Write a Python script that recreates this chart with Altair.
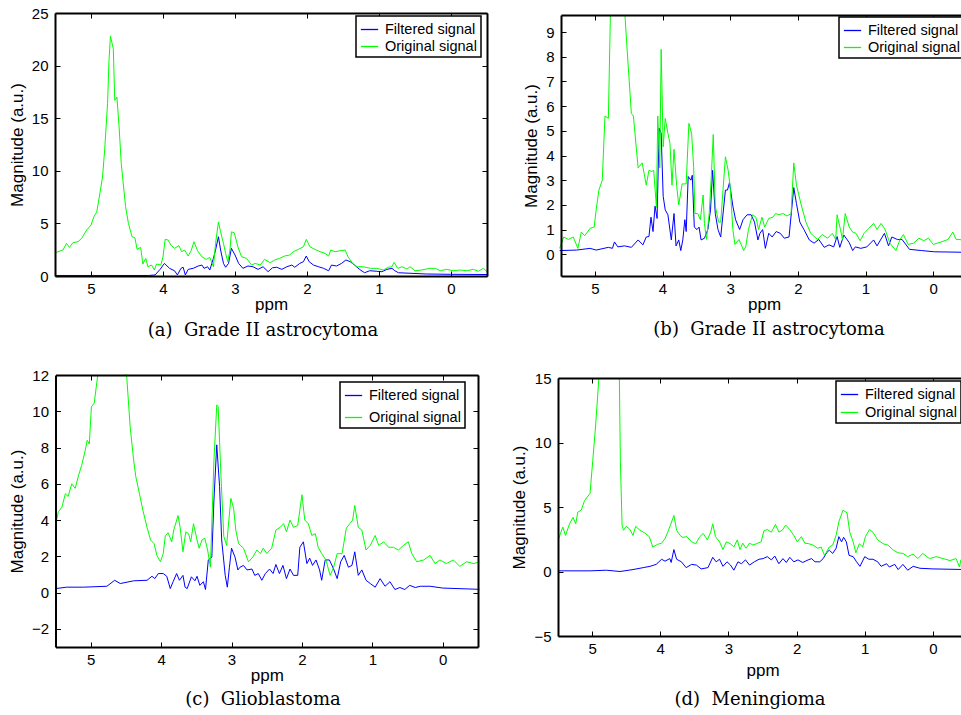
import altair as alt
import pandas as pd

W, H = 961, 715
SERIES = ["Filtered signal", "Original signal"]
COLORS = ["#0000ff", "#00ff00"]
X_DOMAIN = [5.5, -0.5]
X_TICKS = [5, 4, 3, 2, 1, 0]
X_TITLE = "ppm"
Y_TITLE = "Magnitude (a.u.)"
CAPTIONS = ["(a)\u00a0 Grade II astrocytoma", "(b)\u00a0 Grade II astrocytoma",
            "(c)\u00a0 Glioblastoma", "(d)\u00a0 Meningioma"]
OFF = None  # water peak runs off the top of the axes: value not readable, trace leaves the frame

# ---------------- (a) Grade II astrocytoma ----------------
A_Y_DOMAIN = [0, 25]
A_Y_TICKS = [0, 5, 10, 15, 20, 25]
A_f_ppm = [5.5, 5.0, 4.5, 4.2, 4.11, 4.04, 3.98, 3.91, 3.84, 3.80, 3.75, 3.72, 3.69, 3.65, 3.58,
           3.51, 3.46, 3.43, 3.38, 3.35, 3.30, 3.27, 3.23, 3.20, 3.16, 3.13, 3.09, 3.05, 3.0, 2.95,
           2.89, 2.82, 2.75, 2.68, 2.61, 2.54, 2.48, 2.42, 2.35, 2.28, 2.21, 2.17, 2.10, 2.05, 2.01,
           1.97, 1.91, 1.84, 1.77, 1.70, 1.66, 1.59, 1.52, 1.46, 1.40, 1.34, 1.27, 1.20, 1.13, 1.03,
           0.96, 0.89, 0.82, 0.78, 0.73, 0.57, 0.34, 0.01, -0.5]
A_f_val = [0.05, 0.05, 0.05, 0.05, 0.1, 0.63, 1.2, 0.73, 0.5, 0.1, 0.73, 0.83, 0.1, 0.63, 0.73,
           0.95, 1.04, 0.73, 0.88, 0.57, 1.68, 2.47, 3.73, 2.47, 1.2, 0.83, 1.2, 2.63, 2.0, 1.2,
           0.73, 0.95, 0.88, 0.63, 0.88, 0.41, 0.78, 0.83, 0.63, 0.88, 1.04, 0.83, 1.2, 1.36, 1.9,
           1.36, 1.04, 0.88, 0.73, 0.5, 1.04, 0.95, 1.2, 1.52, 1.36, 1.04, 0.63, 0.31, 0.5, 0.45,
           0.41, 0.63, 0.73, 0.5, 0.31, 0.26, 0.19, 0.16, 0.14]
A_o_ppm = [5.5, 5.39, 5.34, 5.30, 5.25, 5.18, 5.13, 5.06, 5.0, 4.96, 4.92, 4.88, 4.84, 4.81, 4.77,
           4.75, 4.73, 4.69, 4.67, 4.64, 4.61, 4.58, 4.52, 4.48, 4.43, 4.39, 4.36, 4.31, 4.28, 4.24,
           4.21, 4.16, 4.12, 4.09, 4.03, 4.0, 3.97, 3.93, 3.89, 3.84, 3.78, 3.74, 3.70, 3.65, 3.61,
           3.57, 3.52, 3.46, 3.40, 3.35, 3.30, 3.27, 3.23, 3.20, 3.16, 3.13, 3.10, 3.07, 3.05, 3.01,
           2.96, 2.91, 2.84, 2.77, 2.72, 2.65, 2.59, 2.51, 2.45, 2.38, 2.31, 2.24, 2.19, 2.12, 2.05,
           2.01, 1.96, 1.89, 1.82, 1.75, 1.70, 1.67, 1.61, 1.54, 1.47, 1.43, 1.36, 1.30, 1.22, 1.12,
           1.03, 0.94, 0.87, 0.82, 0.79, 0.74, 0.68, 0.61, 0.57, 0.50, 0.41, 0.29, 0.22, 0.15, 0.06,
           -0.03, -0.13, -0.22, -0.31, -0.38, -0.45, -0.5]
A_o_val = [2.21, 2.47, 3.1, 2.72, 3.17, 3.26, 3.58, 4.37, 4.84, 5.63, 6.1, 7.7, 9.4, 12.0, 16.4,
           20.5, 22.8, 21.6, 16.7, 17.0, 14.2, 10.7, 6.6, 5.0, 3.73, 3.64, 2.53, 2.72, 1.14, 1.68,
           0.88, 1.04, 0.57, 1.14, 1.04, 1.83, 3.48, 3.42, 2.94, 2.63, 2.88, 2.31, 2.47, 1.9, 2.4,
           3.26, 2.4, 1.83, 1.58, 1.77, 0.88, 3.1, 5.13, 4.2, 3.1, 2.15, 1.36, 2.47, 4.2, 4.11,
           2.78, 1.83, 1.68, 1.04, 1.2, 1.04, 1.58, 1.26, 1.52, 1.68, 1.9, 2.0, 2.31, 2.53, 2.78,
           3.48, 2.78, 2.53, 2.31, 2.15, 1.9, 2.47, 2.31, 2.4, 2.47, 1.83, 1.14, 0.88, 0.88, 0.73,
           0.73, 0.57, 0.83, 0.88, 1.3, 0.73, 0.88, 0.66, 0.88, 0.5, 0.57, 0.73, 0.73, 0.5, 0.63,
           0.5, 0.57, 0.5, 0.63, 0.45, 0.73, 0.41]

# ---------------- (b) Grade II astrocytoma ----------------
B_Y_DOMAIN = [-0.88, 9.69]
B_Y_TICKS = [0, 1, 2, 3, 4, 5, 6, 7, 8, 9]
B_f_ppm = [5.52, 5.27, 5.07, 4.98, 4.80, 4.74, 4.71, 4.66, 4.56, 4.46, 4.36, 4.29, 4.24, 4.20, 4.17,
           4.14, 4.11, 4.08, 4.05, 4.02, 3.99, 3.96, 3.92, 3.87, 3.83, 3.80, 3.76, 3.73, 3.70, 3.67,
           3.65, 3.62, 3.58, 3.56, 3.53, 3.49, 3.46, 3.43, 3.38, 3.33, 3.29, 3.26, 3.22, 3.18, 3.14,
           3.07, 3.04, 3.01, 2.96, 2.92, 2.86, 2.81, 2.75, 2.69, 2.64, 2.59, 2.56, 2.52, 2.48, 2.43,
           2.38, 2.32, 2.26, 2.20, 2.13, 2.06, 2.02, 1.97, 1.91, 1.83, 1.76, 1.69, 1.61, 1.54, 1.47,
           1.42, 1.38, 1.32, 1.24, 1.19, 1.15, 1.07, 0.98, 0.88, 0.83, 0.72, 0.66, 0.61, 0.53, 0.46,
           0.35, 0.17, -0.02, -0.5]
B_f_val = [0.15, 0.17, 0.24, 0.17, 0.28, 0.24, 0.5, 0.3, 0.34, 0.28, 0.58, 0.38, 0.7, 0.72, 1.5,
           0.92, 1.95, 1.45, 5.1, 4.9, 2.35, 1.8, 1.6, 0.58, 1.65, 0.34, 0.58, 0.15, 0.58, 1.4,
           0.92, 3.15, 3.0, 3.2, 1.1, 1.0, 1.1, 0.58, 0.65, 1.0, 1.8, 3.4, 1.65, 1.0, 0.7,
           2.6, 2.6, 2.9, 1.95, 1.4, 1.0, 1.4, 1.6, 1.6, 1.3, 0.58, 0.85, 1.0, 0.24, 0.85,
           0.7, 0.92, 0.85, 0.65, 0.7, 2.7, 2.05, 1.3, 1.0, 0.58, 0.45, 0.6, 0.28, 0.38, 0.3,
           0.72, 0.28, 0.78, 0.47, 0.15, 0.3, 0.24, 0.3, 0.58, 0.34, 0.85, 0.34, 0.7, 0.6, 0.6,
           0.2, 0.15, 0.1, 0.08]
B_o_ppm = [5.52, 5.46, 5.39, 5.32, 5.25, 5.20, 5.15, 5.07, 5.01, 4.98, 4.94, 4.89, 4.85, 4.80, 4.77,
           4.66, 4.555, 4.53, 4.46, 4.43, 4.36, 4.30, 4.24, 4.20, 4.16, 4.13, 4.09, 4.07, 4.04,
           4.02, 3.99, 3.96, 3.92, 3.89, 3.86, 3.83, 3.79, 3.76, 3.71, 3.65, 3.61, 3.57, 3.54, 3.52,
           3.48, 3.44, 3.40, 3.38, 3.35, 3.31, 3.28, 3.25, 3.22, 3.17, 3.14, 3.07, 3.03, 3.0, 2.96,
           2.93, 2.87, 2.80, 2.77, 2.73, 2.67, 2.62, 2.58, 2.53, 2.49, 2.43, 2.37, 2.33, 2.28, 2.22,
           2.16, 2.10, 2.06, 2.02, 1.95, 1.88, 1.81, 1.71, 1.64, 1.56, 1.49, 1.44, 1.42, 1.37, 1.34,
           1.30, 1.24, 1.19, 1.14, 1.08, 1.02, 0.95, 0.88, 0.83, 0.77, 0.71, 0.64, 0.55, 0.49, 0.44,
           0.37, 0.29, 0.21, 0.14, 0.07, 0.0, -0.12, -0.22, -0.29, -0.34, -0.38, -0.5]
B_o_val = [0.24, 0.7, 0.6, 0.7, 0.24, 0.9, 0.75, 1.05, 1.1, 1.8, 2.6, 3.0, 5.6, 5.5, 10.5,
           OFF, 10.2, 8.6, 5.7, 5.6, 3.5, 3.7, 2.8, 3.4, 3.35, 3.4, 1.9, 5.6, 3.5,
           8.3, 4.35, 5.5, 4.9, 4.5, 2.8, 4.25, 2.75, 2.0, 2.85, 2.85, 5.3, 4.9, 3.55, 1.65,
           1.65, 1.4, 2.4, 1.25, 0.6, 1.65, 3.1, 4.85, 1.95, 1.3, 1.3, 3.95, 3.4, 2.75, 1.0,
           0.4, 0.6, 0.15, 0.3, 1.0, 1.6, 1.5, 1.0, 1.5, 1.1, 1.45, 1.5, 1.65, 1.6, 1.65,
           1.55, 1.65, 3.7, 2.8, 2.0, 1.3, 0.85, 0.6, 0.8, 0.65, 0.85, 0.6, 1.6, 1.0, 0.6,
           1.65, 1.1, 0.9, 0.85, 0.55, 0.85, 1.05, 1.25, 1.0, 1.25, 1.0, 0.45, 0.15, 0.6, 0.8,
           0.4, 0.45, 0.65, 0.55, 0.65, 0.4, 0.5, 0.6, 0.9, 0.6, 0.6, 0.55]

# ---------------- (c) Glioblastoma ----------------
C_Y_DOMAIN = [-3, 12]
C_Y_TICKS = [-2, 0, 2, 4, 6, 8, 10, 12]
C_f_ppm = [5.5, 5.34, 5.1, 4.77, 4.66, 4.58, 4.39, 4.20, 4.13, 4.09, 4.04, 3.97, 3.92, 3.87, 3.83,
           3.78, 3.74, 3.69, 3.66, 3.63, 3.57, 3.52, 3.49, 3.45, 3.40, 3.37, 3.33, 3.28, 3.25, 3.21,
           3.17, 3.14, 3.09, 3.06, 3.03, 3.0, 2.95, 2.91, 2.88, 2.83, 2.78, 2.71, 2.67, 2.62, 2.57,
           2.52, 2.46, 2.41, 2.37, 2.32, 2.27, 2.22, 2.17, 2.12, 2.06, 2.03, 1.98, 1.93, 1.89, 1.85,
           1.80, 1.75, 1.72, 1.67, 1.61, 1.55, 1.50, 1.45, 1.40, 1.34, 1.29, 1.25, 1.20, 1.15, 1.09,
           1.03, 0.96, 0.89, 0.82, 0.75, 0.68, 0.61, 0.54, 0.47, 0.39, 0.32, 0.18, 0.0, -0.52]
C_f_val = [0.22, 0.3, 0.3, 0.35, 0.68, 0.5, 0.65, 0.68, 0.9, 0.77, 1.05, 1.05, 0.9, 0.22, 0.6,
           1.05, 0.68, 0.95, 0.3, 0.22, 0.87, 0.65, 0.9, 0.4, 0.6, 0.17, 1.8, 1.95, 5.1, 8.15,
           5.85, 2.9, 0.95, 0.3, 1.4, 2.45, 1.95, 1.25, 1.4, 1.5, 1.25, 1.3, 0.95, 1.05, 0.68,
           1.05, 1.3, 1.05, 1.55, 1.05, 1.5, 0.77, 1.3, 0.95, 0.95, 2.5, 2.8, 1.6, 1.9, 1.5,
           1.8, 1.25, 0.68, 1.8, 1.8, 1.3, 0.77, 1.7, 2.05, 1.4, 1.5, 2.25, 0.95, 1.25, 0.68,
           0.5, 0.3, 0.77, 0.35, 0.6, 0.17, 0.28, 0.17, 0.4, 0.28, 0.35, 0.35, 0.25, 0.18]
C_o_ppm = [5.5, 5.49, 5.46, 5.41, 5.36, 5.32, 5.27, 5.22, 5.17, 5.13, 5.08, 5.05, 5.02, 4.99, 4.95,
           4.90, 4.70, 4.52, 4.49, 4.44, 4.39, 4.36, 4.31, 4.26, 4.20, 4.15, 4.10, 4.06,
           4.01, 3.97, 3.94, 3.90, 3.85, 3.82, 3.76, 3.73, 3.69, 3.65, 3.61, 3.58, 3.54, 3.49, 3.46,
           3.42, 3.38, 3.34, 3.30, 3.25, 3.21, 3.19, 3.15, 3.11, 3.07, 3.01, 2.97, 2.94, 2.90, 2.83,
           2.76, 2.70, 2.64, 2.59, 2.55, 2.50, 2.43, 2.37, 2.31, 2.26, 2.22, 2.17, 2.12, 2.06, 2.0,
           1.96, 1.91, 1.86, 1.81, 1.77, 1.72, 1.66, 1.60, 1.55, 1.50, 1.43, 1.37, 1.32, 1.28, 1.25,
           1.20, 1.15, 1.09, 1.03, 0.96, 0.91, 0.84, 0.77, 0.70, 0.63, 0.56, 0.49, 0.44, 0.37, 0.27,
           0.18, 0.11, 0.04, -0.05, -0.15, -0.24, -0.34, -0.44, -0.52]
C_o_val = [4.4, 3.9, 4.45, 4.7, 5.45, 5.3, 6.0, 5.75, 6.5, 7.0, 7.8, 8.4, 8.2, 10.25, 10.45,
           13.5, OFF, 13.5, 12.0, 9.15, 7.3, 6.4, 5.5, 4.55, 3.6, 2.9, 2.7, 2.05,
           1.7, 2.15, 3.15, 3.3, 2.8, 3.45, 4.25, 3.6, 2.25, 3.35, 3.25, 2.8, 3.8, 2.9, 2.45,
           2.9, 3.0, 2.35, 1.4, 7.3, 10.35, 10.25, 6.4, 3.1, 2.6, 5.2, 4.65, 3.45, 2.7, 2.45,
           1.7, 1.95, 2.35, 2.15, 2.45, 2.15, 2.45, 3.45, 3.6, 3.8, 3.35, 4.0, 3.6, 3.7, 5.4,
           4.0, 3.8, 3.15, 3.25, 2.5, 2.15, 1.8, 0.95, 1.4, 2.15, 2.15, 3.55, 3.8, 4.0, 4.8,
           3.6, 3.45, 2.35, 2.6, 3.15, 2.6, 2.8, 2.5, 2.5, 2.35, 2.6, 2.8, 2.15, 1.7, 1.8,
           2.05, 1.6, 1.8, 1.6, 1.8, 1.45, 1.7, 1.6, 1.7]

# ---------------- (d) Meningioma ----------------
D_Y_DOMAIN = [-5, 15]
D_Y_TICKS = [-5, 0, 5, 10, 15]
D_f_ppm = [5.5, 5.03, 4.79, 4.59, 4.40, 4.25, 4.15, 4.06, 3.98, 3.93, 3.86, 3.84, 3.80, 3.76, 3.69,
           3.62, 3.54, 3.47, 3.40, 3.30, 3.23, 3.18, 3.13, 3.08, 3.02, 2.97, 2.92, 2.86, 2.81, 2.75,
           2.69, 2.62, 2.55, 2.49, 2.43, 2.37, 2.32, 2.26, 2.20, 2.15, 2.10, 2.04, 1.98, 1.91, 1.83,
           1.78, 1.73, 1.66, 1.61, 1.56, 1.52, 1.47, 1.42, 1.38, 1.34, 1.31, 1.27, 1.23, 1.17, 1.12,
           1.07, 1.0, 0.94, 0.88, 0.81, 0.76, 0.68, 0.64, 0.56, 0.51, 0.44, 0.37, 0.29, 0.19, 0.0,
           -0.5]
D_f_val = [0.05, 0.05, 0.1, 0.0, 0.15, 0.3, 0.4, 0.55, 0.95, 0.8, 1.0, 0.7, 1.7, 0.95, 0.75,
           0.3, 0.55, 0.5, 0.2, 0.3, 1.1, 0.75, 0.95, 0.4, 0.75, 0.5, 0.1, 0.75, 0.6, 0.9,
           0.5, 0.75, 0.95, 1.0, 1.15, 0.9, 1.2, 0.6, 1.0, 0.7, 1.1, 0.75, 0.9, 0.7, 0.9,
           1.0, 0.75, 0.75, 1.0, 1.45, 1.65, 1.4, 1.8, 2.7, 2.3, 2.65, 2.3, 1.25, 1.15, 0.75,
           0.4, 1.15, 0.95, 0.95, 0.75, 0.4, 0.6, 0.35, 0.55, 0.15, 0.55, 0.1, 0.4, 0.25, 0.2,
           0.15]
D_o_ppm = [5.49, 5.43, 5.39, 5.33, 5.28, 5.24, 5.21, 5.16, 5.11, 5.03, 4.99, 4.95, 4.90, 4.75,
           4.60, 4.585, 4.56, 4.54, 4.50, 4.45, 4.40, 4.36, 4.30, 4.23, 4.16, 4.11, 4.04, 3.98,
           3.93, 3.89, 3.85, 3.80, 3.76, 3.71, 3.67, 3.61, 3.54, 3.48, 3.42, 3.37, 3.31, 3.26, 3.23,
           3.19, 3.13, 3.08, 3.03, 2.97, 2.92, 2.87, 2.83, 2.79, 2.74, 2.69, 2.64, 2.59, 2.52, 2.48,
           2.43, 2.37, 2.31, 2.26, 2.21, 2.16, 2.10, 2.04, 1.99, 1.93, 1.88, 1.82, 1.76, 1.69, 1.64,
           1.59, 1.52, 1.47, 1.42, 1.38, 1.32, 1.26, 1.22, 1.17, 1.13, 1.08, 1.03, 0.99, 0.93, 0.88,
           0.81, 0.73, 0.66, 0.58, 0.51, 0.44, 0.37, 0.29, 0.22, 0.15, 0.05, -0.05, -0.15, -0.25, -0.34,
           -0.39, -0.41, -0.5]
D_o_val = [2.55, 3.45, 2.8, 3.7, 4.2, 3.7, 4.6, 4.75, 5.5, 6.05, 8.6, 11.2, 15.5, OFF,
           15.5, 8.6, 3.6, 3.2, 3.5, 3.3, 2.8, 3.5, 3.2, 3.0, 2.7, 1.9, 2.1, 2.2,
           2.55, 3.05, 3.6, 4.35, 3.2, 2.8, 2.65, 2.7, 2.3, 2.15, 2.7, 2.95, 2.45, 3.05, 3.7,
           2.7, 2.3, 1.7, 2.3, 2.15, 1.9, 2.45, 1.7, 2.2, 1.8, 2.2, 2.05, 2.15, 2.3, 3.15,
           3.25, 3.05, 3.65, 3.05, 3.2, 3.6, 3.25, 2.8, 2.3, 2.7, 2.2, 2.15, 2.05, 1.8, 1.9,
           1.25, 1.9, 2.05, 2.8, 3.85, 4.75, 4.55, 3.05, 2.3, 1.45, 2.15, 1.9, 2.7, 3.25, 3.05,
           2.45, 2.15, 2.05, 1.65, 1.45, 1.4, 1.15, 1.35, 1.0, 1.4, 1.0, 1.15, 1.0, 0.85, 1.0,
           0.35, 0.9, 0.9]

# panel layout (pixel boxes of each plot area, legend anchors, caption anchors)
PANELS = [
    dict(f=(A_f_ppm, A_f_val), o=(A_o_ppm, A_o_val), ydom=A_Y_DOMAIN, yticks=A_Y_TICKS,
         xr=(55, 487), yr=(276, 13), leg=(356, 16, 1), cap=(CAPTIONS[0], 263, 336), xtp=0),
    dict(f=(B_f_ppm, B_f_val), o=(B_o_ppm, B_o_val), ydom=B_Y_DOMAIN, yticks=B_Y_TICKS,
         xr=(561, 967), yr=(276, 15), leg=(839, 17, 1), cap=(CAPTIONS[1], 769, 335), xtp=0),
    dict(f=(C_f_ppm, C_f_val), o=(C_o_ppm, C_o_val), ydom=C_Y_DOMAIN, yticks=C_Y_TICKS,
         xr=(55.5, 478), yr=(647, 375), leg=(340, 382, 6), cap=(CAPTIONS[2], 263, 705), xtp=0),
    dict(f=(D_f_ppm, D_f_val), o=(D_o_ppm, D_o_val), ydom=D_Y_DOMAIN, yticks=D_Y_TICKS,
         xr=(558, 967), yr=(636, 378), leg=(836, 381, 2), cap=(CAPTIONS[3], 750, 705), xtp=6),
]


def trace_rows(ppm, val, name):
    """Split a trace into separate pieces wherever it leaves the axes (OFF markers)."""
    rows, piece = [], 0
    for x, v in zip(ppm, val):
        if v is None:
            piece += 1
            continue
        rows.append({"ppm": x, "mag": v, "series": name, "piece": f"{name}-{piece}"})
    return rows


def ax(**kw):
    base = dict(grid=False, zindex=1, labelFlush=False, labelOverlap=False,
                domainColor="black", tickColor="black", domainWidth=2, tickWidth=1)
    base.update(kw)
    return alt.Axis(**base)


layers = []
for p in PANELS:
    assert len(p["f"][0]) == len(p["f"][1]) and len(p["o"][0]) == len(p["o"][1])
    df = pd.DataFrame(trace_rows(*p["f"], SERIES[0]) + trace_rows(*p["o"], SERIES[1]))
    x0, x1 = p["xr"]
    yb, yt = p["yr"]
    xs = alt.Scale(domain=X_DOMAIN, range=[x0, x1], nice=False, zero=False)
    ys = alt.Scale(domain=p["ydom"], range=[yb, yt], nice=False, zero=False, clamp=True)
    lx, ly, rp = p["leg"]

    main = alt.Chart(df).mark_line(strokeWidth=1).encode(
        x=alt.X("ppm:Q", scale=xs,
                axis=ax(orient="bottom", offset=yb - H, values=X_TICKS, ticks=False, tickSize=0,
                        labelPadding=5, title=X_TITLE, titlePadding=p["xtp"])),
        y=alt.Y("mag:Q", scale=ys,
                axis=ax(orient="left", offset=-x0, values=p["yticks"], ticks=False, tickSize=0,
                        labelPadding=7, title=Y_TITLE, titlePadding=5)),
        color=alt.Color("series:N", scale=alt.Scale(domain=SERIES, range=COLORS),
                        legend=alt.Legend(orient="none", legendX=lx, legendY=ly, direction="vertical",
                                          title=None, fillColor="white", strokeColor="black",
                                          padding=4, rowPadding=rp, symbolType="stroke",
                                          symbolSize=300, symbolStrokeWidth=1.3,
                                          labelFont="Liberation Sans", labelFontSize=14.5,
                                          labelColor="black", labelOffset=6, labelLimit=400,
                                          zindex=1)),
        detail="piece:N",
    )
    # inward ticks on the bottom and left edges
    frame1 = alt.Chart(df).mark_line(strokeOpacity=0).encode(
        x=alt.X("ppm:Q", scale=xs,
                axis=ax(orient="top", offset=-yb, values=X_TICKS, labels=False, domain=False,
                        tickSize=5, title=None)),
        y=alt.Y("mag:Q", scale=ys,
                axis=ax(orient="right", offset=x0 - W, values=p["yticks"], labels=False,
                        domain=False, tickSize=5, title=None)),
    )
    # top and right edges of the box with inward ticks
    frame2 = alt.Chart(df).mark_line(strokeOpacity=0).encode(
        x=alt.X("ppm:Q", scale=xs,
                axis=ax(orient="bottom", offset=yt - H, values=X_TICKS, labels=False, domain=True,
                        tickSize=5, title=None)),
        y=alt.Y("mag:Q", scale=ys,
                axis=ax(orient="left", offset=-x1, values=p["yticks"], labels=False, domain=True,
                        tickSize=5, title=None)),
    )
    text, cx, cy = p["cap"]
    caption = alt.Chart(pd.DataFrame({"t": [text]})).mark_text(
        font="DejaVu Serif", fontSize=18, align="center", baseline="alphabetic", color="black"
    ).encode(text="t:N", x=alt.value(cx), y=alt.value(cy))
    layers += [main, frame1, frame2, caption]

chart = alt.layer(*layers).resolve_scale(
    x="independent", y="independent", color="independent"
).properties(
    width=W, height=H, padding=0, autosize=alt.AutoSizeParams(type="none")
).configure_view(stroke=None).configure_axis(
    labelFont="Liberation Sans", labelFontSize=15, labelColor="black",
    titleFont="Liberation Sans", titleFontSize=17, titleFontWeight="normal", titleColor="black"
).configure_legend(strokeWidth=1.5)

chart.save("out.html", embed_options={"renderer": "svg", "actions": False})
